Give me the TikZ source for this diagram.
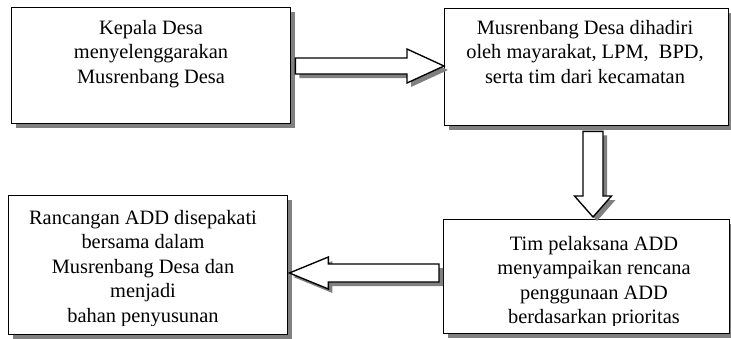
\documentclass[tikz,border=0pt]{standalone}
\usepackage{fontspec}
\setmainfont{Liberation Serif}
\usetikzlibrary{shadows,calc}
\tikzset{
  shad/.style={drop shadow={shadow xshift=4pt, shadow yshift=-4pt, fill=black!50, opacity=1}},
  boxst/.style={draw=black, line width=1.35pt, fill=white, rectangle, inner sep=0pt, anchor=north west, shad},
  txt/.style={align=center, anchor=north, inner sep=0pt, font=\fontsize{20.4pt}{24.5pt}\selectfont},
  blk/.style={draw=black, line width=1.35pt, fill=white, line join=miter, shad},
}
\begin{document}
\begin{tikzpicture}[x=1pt, y=-1pt]
\useasboundingbox (0,0) rectangle (731,338);
% boxes
\node[boxst, minimum width=279pt, minimum height=116pt] (b1) at (11,7) {};
\node[boxst, minimum width=284pt, minimum height=117pt] (b2) at (444,8) {};
\node[boxst, minimum width=286pt, minimum height=114pt] (b3) at (443,219) {};
\node[boxst, minimum width=279pt, minimum height=139pt] (b4) at (8,195) {};
% texts
\node[txt] (t1) at (151,20) {Kepala Desa\\menyelenggarakan\\Musrenbang Desa};
\node[txt] (t2) at (585,20) {Musrenbang Desa dihadiri\\oleh mayarakat, LPM, \ BPD,\\serta tim dari kecamatan};
\begin{scope}
\clip (b3.north west) rectangle (b3.east |- 0,325);
\node[txt] (t3) at (594,236) {Tim pelaksana ADD\\menyampaikan rencana\\penggunaan ADD\\berdasarkan prioritas};
\end{scope}
\begin{scope}
\clip (b4.north west) rectangle (b4.east |- 0,325);
\node[txt] (t4) at (143,210) {Rancangan ADD disepakati\\bersama dalam\\Musrenbang Desa dan\\menjadi\\bahan penyusunan};
\end{scope}
% block arrows
\coordinate (r1t) at ($(b1.east |- 0,66)+(4,0)$);
\coordinate (r1p) at (b2.west |- 0,66);
\draw[blk] ($(r1t)+(0,-8)$) -- ($(r1p)+(-37,-8)$) -- ($(r1p)+(-37,-17)$) -- (r1p)
  -- ($(r1p)+(-37,17)$) -- ($(r1p)+(-37,8)$) -- ($(r1t)+(0,8)$) -- cycle;
\coordinate (d1t) at ($(593,0 |- b2.south)+(0,5)$);
\coordinate (d1p) at ($(593,0 |- b3.north)+(0,-2)$);
\draw[blk] ($(d1t)+(-10,0)$) -- ($(d1p)+(-10,-21)$) -- ($(d1p)+(-18.5,-21)$) -- (d1p)
  -- ($(d1p)+(18.5,-21)$) -- ($(d1p)+(10,-21)$) -- ($(d1t)+(10,0)$) -- cycle;
\coordinate (l1t) at ($(b3.west |- 0,273)+(-4,0)$);
\coordinate (l1p) at ($(b4.east |- 0,273)+(1,0)$);
\draw[blk] ($(l1t)+(0,-9)$) -- ($(l1p)+(39,-9)$) -- ($(l1p)+(39,-16)$) -- (l1p)
  -- ($(l1p)+(39,16)$) -- ($(l1p)+(39,9)$) -- ($(l1t)+(0,9)$) -- cycle;
\end{tikzpicture}
\end{document}
